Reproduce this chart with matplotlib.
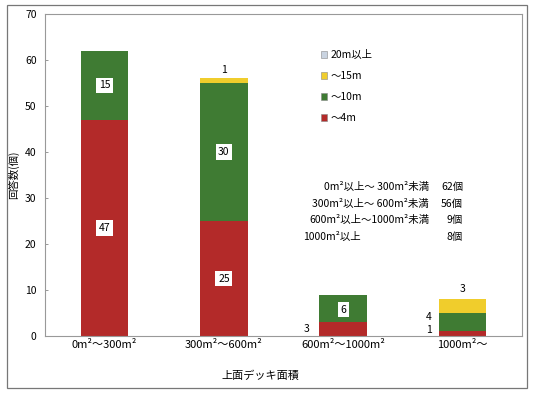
import matplotlib
matplotlib.use("Agg")
import matplotlib.pyplot as plt
from matplotlib.patches import Rectangle, Patch

plt.rcParams['font.family'] = ['Noto Sans CJK JP', 'DejaVu Sans']

categories = ["0m²～300m²", "300m²～600m²", "600m²～1000m²", "1000m²～"]
s_4m = [47, 25, 3, 1]
s_10m = [15, 30, 6, 4]
s_15m = [0, 1, 0, 3]
s_20m = [0, 0, 0, 0]
series_names = ["～4m", "～10m", "～15m", "20m以上"]
colors = ["#b32a29", "#3f7b33", "#f0cd2c", "#c9d3e0"]

summary_ranges = ["0m²以上～ 300m²未満", "300m²以上～ 600m²未満", "600m²以上～1000m²未満", "1000m²以上"]
summary_counts = ["62個", "56個", "9個", "8個"]

fig = plt.figure(figsize=(5.35, 3.97), dpi=100)
fig.patches.append(Rectangle((7/535, 1-388/397), (527-7)/535, (388-5)/397,
                             transform=fig.transFigure, fill=False, edgecolor="#777777", lw=0.9))
ax = fig.add_axes([45/535, 1-336/397, (522-45)/535, (336-14)/397])

x = list(range(len(categories)))
w = 0.4
series = [s_4m, s_10m, s_15m, s_20m]
bottom = [0]*len(x)
for vals, c in zip(series, colors):
    ax.bar(x, vals, w, bottom=bottom, color=c, edgecolor='none')
    bottom = [b+v for b, v in zip(bottom, vals)]

box = dict(boxstyle="square,pad=0.25", fc="white", ec="none")
fs = 7.5
# boxed labels inside bars
for i in [0, 1]:
    ax.text(i, s_4m[i]/2, str(s_4m[i]), ha='center', va='center', fontsize=fs, bbox=box)
    ax.text(i, s_4m[i] + s_10m[i]/2, str(s_10m[i]), ha='center', va='center', fontsize=fs, bbox=box)
ax.text(2, s_4m[2] + s_10m[2]/2 - 0.3, str(s_10m[2]), ha='center', va='center', fontsize=fs, bbox=box)
# outside labels
ax.text(1, s_4m[1]+s_10m[1]+s_15m[1]+0.8, str(s_15m[1]), ha='center', va='bottom', fontsize=fs)
ax.text(2-0.28, s_4m[2]/2, str(s_4m[2]), ha='right', va='center', fontsize=fs)
ax.text(3-0.26, s_4m[3] + s_10m[3]/2 + 1.1, str(s_10m[3]), ha='right', va='center', fontsize=fs)
ax.text(3-0.26, s_4m[3]/2 + 0.8, str(s_4m[3]), ha='right', va='center', fontsize=fs)
ax.text(3, s_4m[3] + s_10m[3] + s_15m[3] + 2.2, str(s_15m[3]), ha='center', va='center', fontsize=fs)

ax.set_xlim(-0.5, 3.5)
ax.set_ylim(0, 70)
ax.set_yticks(range(0, 71, 10))
ax.set_xticks(x)
ax.set_xticklabels(categories, fontsize=8)
ax.tick_params(axis='y', labelsize=7.5, length=2, width=0.6, color="#888888", direction='in', pad=6)
ax.tick_params(axis='x', length=0, pad=3)
for s in ax.spines.values():
    s.set_color("#999999")
    s.set_linewidth(0.8)

fig.text(14/535, 1-175/397, "回答数(個)", rotation=90, ha='center', va='center', fontsize=7.5)
fig.text(260/535, 1-376/397, "上面デッキ面積", ha='center', va='center', fontsize=8)

# legend
handles = [Patch(facecolor=c, edgecolor='#888888', lw=0.4) for c in colors[::-1]]
leg = ax.legend(handles, series_names[::-1], loc='upper left', bbox_to_anchor=((316-45)/477, 1-(45-14)/322),
                frameon=False, fontsize=7.5, handlelength=0.6, handleheight=0.6, handletextpad=0.3,
                labelspacing=1.05, borderpad=0)

# summary text
ys = [187, 204, 220, 237]
for i, (r, c) in enumerate(zip(summary_ranges, summary_counts)):
    yf = 1 - ys[i]/397
    if i < 3:
        fig.text(429/535, yf, r, ha='right', va='center', fontsize=7.5)
    else:
        fig.text(303/535, yf, r, ha='left', va='center', fontsize=7.5)
    fig.text(463/535, yf, c, ha='right', va='center', fontsize=7.5)

fig.savefig("out.png", dpi=100)
